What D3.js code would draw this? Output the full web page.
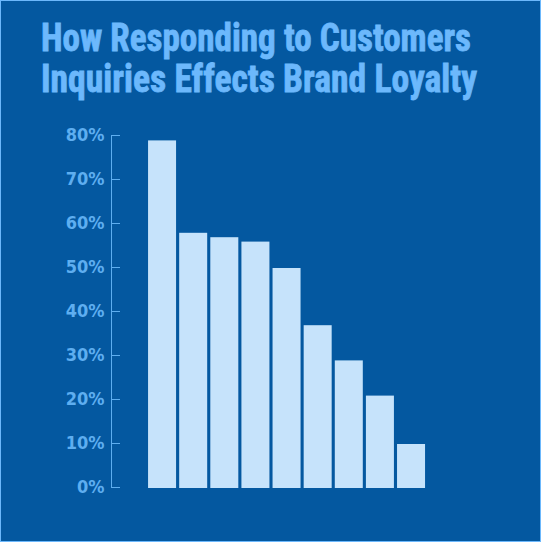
<!DOCTYPE html>
<meta charset="utf-8">
<head>
    <script type="text/javascript" src="https://d3js.org/d3.v7.min.js"></script>
    <style>
        body { margin: 0; background: #0458a0; }
        svg { display: block; }
        .title { font-family: "Liberation Sans Narrow", "Arial Narrow", "Roboto Condensed", "DejaVu Sans Condensed", sans-serif; font-weight: bold; }
        .axis text { font-family: "Liberation Sans Narrow", "Arial Narrow", "DejaVu Sans Condensed", sans-serif; font-weight: bold; }
    </style>
    <title>How Responding to Customers Inquiries Effects Brand Loyalty</title>
</head>
<body>
    <script>
        // chart data
        var titleLines = ["How Responding to Customers", "Inquiries Effects Brand Loyalty"];
        var categories = ["1", "2", "3", "4", "5", "6", "7", "8", "9"];
        var values = [79, 58, 57, 56, 50, 37, 29, 21, 10];
        var tickValues = [0, 10, 20, 30, 40, 50, 60, 70, 80];

        var width = 541, height = 542;
        var bg = "#0458a0", light = "#6cb8fc", barColor = "#c6e3fb", axisColor = "#5eaef0";

        var svg = d3.select("body").append("svg")
            .attr("width", width)
            .attr("height", height);

        // background + thin border
        svg.append("rect")
            .attr("x", 0.5).attr("y", 0.5)
            .attr("width", width - 1).attr("height", height - 1)
            .attr("fill", bg)
            .attr("stroke", light)
            .attr("stroke-width", 1);

        // title (heavy condensed look: stretch to measured widths, thin stroke)
        var titleWidths = [430, 436];
        svg.selectAll("text.title")
            .data(titleLines)
            .enter()
            .append("text")
            .attr("class", "title")
            .attr("x", 41)
            .attr("y", function(d, i) { return 51 + i * 41; })
            .attr("font-size", 39)
            .attr("fill", light)
            .attr("stroke", light)
            .attr("stroke-width", 0.8)
            .attr("textLength", function(d, i) { return titleWidths[i]; })
            .attr("lengthAdjust", "spacingAndGlyphs")
            .text(function(d) { return d; });

        // scales
        var x = d3.scaleBand()
            .domain(categories)
            .range([146.5, 426.6])
            .paddingInner(0.1)
            .paddingOuter(0.05);

        var y = d3.scaleLinear()
            .domain([0, 80])
            .range([488, 136]);

        // bars
        svg.append("g")
            .selectAll("rect")
            .data(values)
            .enter()
            .append("rect")
            .attr("x", function(d, i) { return x(categories[i]); })
            .attr("y", function(d) { return y(d); })
            .attr("width", x.bandwidth())
            .attr("height", function(d) { return y(0) - y(d); })
            .attr("fill", barColor);

        // y axis, ticks pointing right
        var yAxis = d3.axisLeft(y)
            .tickValues(tickValues)
            .tickSizeInner(-9)
            .tickSizeOuter(0)
            .tickPadding(6.5)
            .tickFormat(function(d) { return d + "%"; });

        var axisG = svg.append("g")
            .attr("class", "axis")
            .attr("transform", "translate(111,-1)")
            .call(yAxis);

        axisG.select(".domain").attr("stroke", axisColor);
        axisG.selectAll(".tick line").attr("stroke", axisColor);
        axisG.selectAll(".tick text")
            .attr("fill", axisColor)
            .attr("font-size", 18);
    </script>
</body>
</html>
